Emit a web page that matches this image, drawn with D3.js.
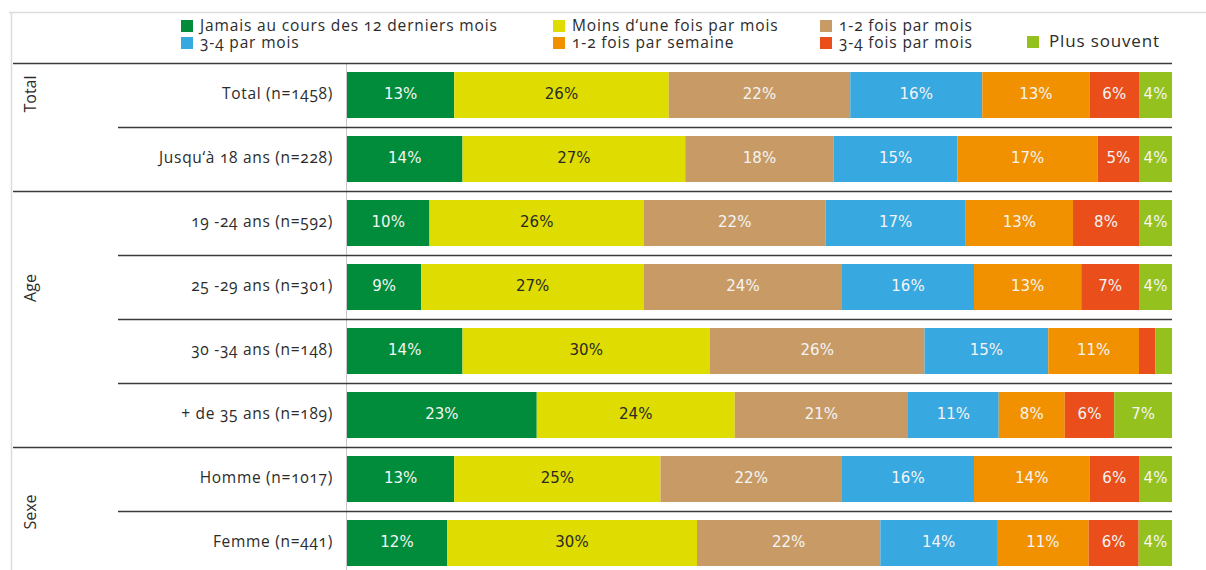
<!DOCTYPE html>
<html>
<head>
<meta charset="utf-8">
<script src="https://cdn.jsdelivr.net/npm/d3@7"></script>
<style>
  html, body { margin: 0; padding: 0; background: #fff; }
  svg { display: block; }
  .cat { font-family: "Open Sans", "Noto Sans", sans-serif; font-size: 15.5px; letter-spacing: 0.7px; fill: #2b2b2b; font-variant-numeric: oldstyle-nums; }
  .grp { font-family: "Open Sans", "Noto Sans", sans-serif; font-size: 16px; fill: #2b2b2b; }
  .leg { font-family: "Open Sans", "Noto Sans", sans-serif; font-size: 15.5px; letter-spacing: 0.85px; fill: #2b2b2b; font-variant-numeric: oldstyle-nums; }
  .val { font-family: "DejaVu Sans", Verdana, sans-serif; font-size: 15px; }
</style>
</head>
<body>
<svg id="chart" width="1206" height="570"></svg>
<script>
// Response categories (stack order) and their colours
const seriesNames = [
  "Jamais au cours des 12 derniers mois",
  "Moins d‘une fois par mois",
  "1-2 fois par mois",
  "3-4 par mois",
  "1-2 fois par semaine",
  "3-4 fois par mois",
  "Plus souvent"
];
const seriesColors = ["#008c3a", "#dedc00", "#c89b66", "#38a8e0", "#f29100", "#e94e1b", "#95c11f"];

// Rows (top to bottom) and their groups
const rowLabels = [
  "Total (n=1458)",
  "Jusqu‘à 18 ans (n=228)",
  "19 -24 ans (n=592)",
  "25 -29 ans (n=301)",
  "30 -34 ans (n=148)",
  "+ de 35 ans (n=189)",
  "Homme (n=1017)",
  "Femme (n=441)"
];
const groupNames = ["Total", "Age", "Sexe"];
const groupSizes = [2, 4, 2];

// Percentages per series, one value per row
const jamais      = [13, 14, 10,  9, 14, 23, 13, 12];
const moinsUne    = [26, 27, 26, 27, 30, 24, 25, 30];
const unDeuxMois  = [22, 18, 22, 24, 26, 21, 22, 22];
const troisQuatre = [16, 15, 17, 16, 15, 11, 16, 14];
const unDeuxSem   = [13, 17, 13, 13, 11,  8, 14, 11];
const troisQuatreFois = [6, 5,  8,  7,  2,  6,  6,  6];
const plusSouvent = [ 4,  4,  4,  4,  2,  7,  4,  4];
// Segments too narrow to carry a label
const hiddenLabels = [[4, 5], [4, 6]];

const seriesValues = [jamais, moinsUne, unDeuxMois, troisQuatre, unDeuxSem, troisQuatreFois, plusSouvent];

const svg = d3.select("#chart");

// Layout
const barLeft = 347, barRight = 1172;
const firstRowTop = 63, rowStep = 64, barH = 46, barPad = 9;

const y = d3.scaleBand()
  .domain(d3.range(rowLabels.length))
  .range([firstRowTop, firstRowTop + rowStep * rowLabels.length])
  .paddingInner(0).paddingOuter(0);

// Outer light frame
svg.append("line").attr("x1", 9).attr("x2", 1206).attr("y1", 12.5).attr("y2", 12.5)
  .attr("stroke", "#dcdcdc").attr("stroke-width", 1.5);
svg.append("line").attr("x1", 11.5).attr("x2", 11.5).attr("y1", 12).attr("y2", 570)
  .attr("stroke", "#dcdcdc").attr("stroke-width", 1.5);

// Light vertical axis line at bar start
svg.append("line").attr("x1", barLeft - 0.5).attr("x2", barLeft - 0.5)
  .attr("y1", firstRowTop).attr("y2", 570)
  .attr("stroke", "#c8c8c8").attr("stroke-width", 1);

// Row separators: full width at group starts, shorter within groups
const groupStarts = [];
let acc = 0;
groupSizes.forEach(s => { groupStarts.push(acc); acc += s; });
rowLabels.forEach((_, i) => {
  const isGroupStart = groupStarts.includes(i);
  svg.append("line")
    .attr("x1", isGroupStart ? 13 : 118).attr("x2", barRight)
    .attr("y1", y(i) + 0.5).attr("y2", y(i) + 0.5)
    .attr("stroke", "#3a3a3a").attr("stroke-width", 1.3);
});

// Group labels, rotated
const groupLabelY = [94, 288, 512];
groupNames.forEach((g, gi) => {
  svg.append("text").attr("class", "grp")
    .attr("transform", `translate(36,${groupLabelY[gi]}) rotate(-90)`)
    .attr("text-anchor", "middle")
    .text(g);
});

// Row labels
svg.selectAll("text.cat").data(rowLabels).join("text")
  .attr("class", "cat")
  .attr("x", 333)
  .attr("y", (d, i) => y(i) + barPad + barH / 2 + 3.5)
  .attr("text-anchor", "end")
  .text(d => d);

// Stacked bars, each row normalised to its total
rowLabels.forEach((_, ri) => {
  const vals = seriesValues.map(s => s[ri]);
  const total = d3.sum(vals);
  const x = d3.scaleLinear().domain([0, total]).range([barLeft, barRight]);
  let start = 0;
  const segs = vals.map((v, si) => {
    const seg = { si, v, x0: start, x1: start + v };
    start += v;
    return seg;
  });
  const g = svg.append("g");
  g.selectAll("rect").data(segs).join("rect")
    .attr("x", d => x(d.x0))
    .attr("y", y(ri) + barPad)
    .attr("width", d => x(d.x1) - x(d.x0))
    .attr("height", barH)
    .attr("fill", d => seriesColors[d.si]);
  g.selectAll("text").data(segs.filter(d => !hiddenLabels.some(h => h[0] === ri && h[1] === d.si)))
    .join("text")
    .attr("class", "val")
    .attr("x", d => (x(d.x0) + x(d.x1)) / 2)
    .attr("y", y(ri) + barPad + barH / 2 + 3.5)
    .attr("text-anchor", "middle")
    .attr("fill", d => d.si === 1 ? "#2a2a2a" : "#f4f4f4")
    .text(d => d.v + "%");
});

// Legend
const legendPos = [
  [181, 20], [553, 20], [820, 20],
  [181, 37], [553, 37], [820, 37],
  [1027, 36]
];
seriesNames.forEach((name, i) => {
  const [lx, ly] = legendPos[i];
  svg.append("rect").attr("x", lx).attr("y", ly).attr("width", 12).attr("height", 12)
    .attr("fill", seriesColors[i]);
  svg.append("text").attr("class", "leg")
    .attr("x", lx + (i === 6 ? 22 : 19))
    .attr("y", ly + 11)
    .style("font-size", i === 6 ? "17px" : null)
    .text(name);
});
</script>
</body>
</html>
